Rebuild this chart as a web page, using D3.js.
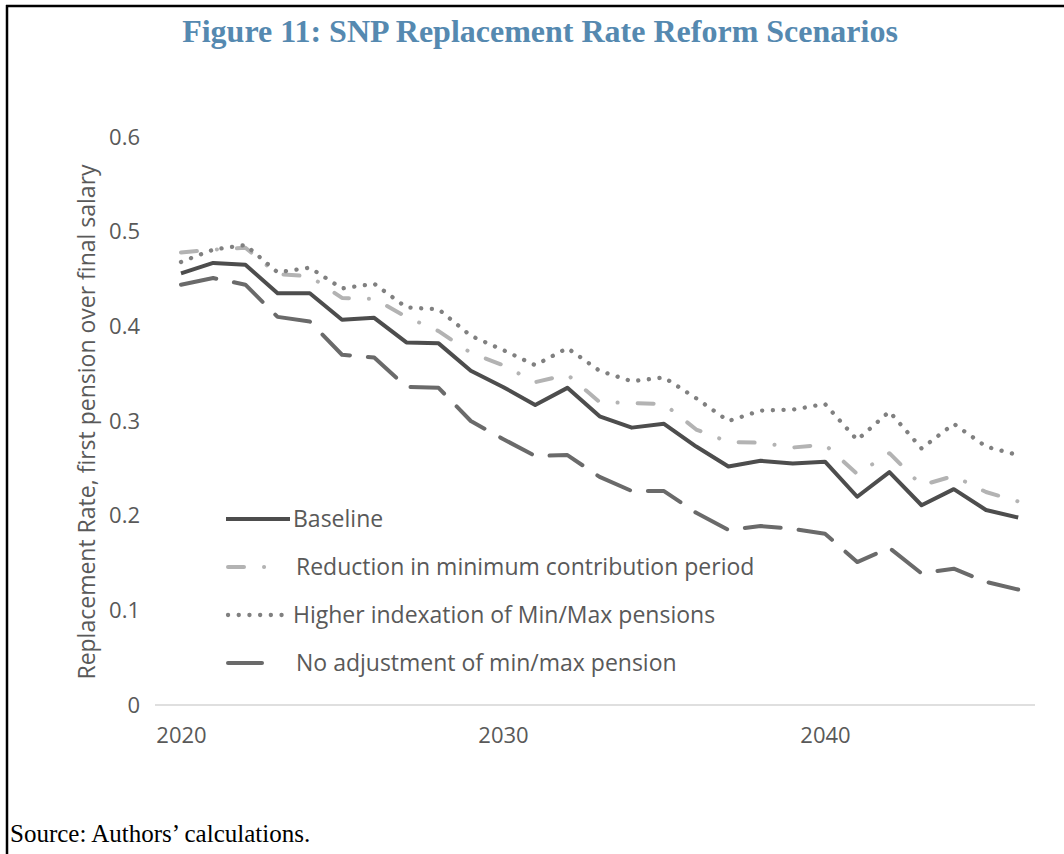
<!DOCTYPE html>
<html>
<head>
<meta charset="utf-8">
<script src="https://cdn.jsdelivr.net/npm/d3@7"></script>
<style>
  body { margin: 0; background: #fff; }
  svg { display: block; }
</style>
</head>
<body>
<script>
// Data, one value per year 2020..2046
var years = d3.range(2020, 2047);

var baseline = [0.456, 0.467, 0.465, 0.435, 0.435, 0.407, 0.409, 0.383, 0.382, 0.353,
    0.336, 0.317, 0.335, 0.305, 0.293, 0.297, 0.273, 0.252, 0.258, 0.255,
    0.257, 0.220, 0.246, 0.211, 0.228, 0.206, 0.198];

var reduction = [0.478, 0.481, 0.483, 0.455, 0.453, 0.430, 0.429, 0.410, 0.395, 0.372,
    0.359, 0.341, 0.349, 0.320, 0.319, 0.318, 0.291, 0.278, 0.277, 0.272,
    0.275, 0.244, 0.266, 0.232, 0.242, 0.225, 0.215];

var indexation = [0.468, 0.481, 0.486, 0.457, 0.462, 0.440, 0.445, 0.420, 0.418, 0.390,
    0.375, 0.359, 0.377, 0.353, 0.342, 0.346, 0.324, 0.300, 0.311, 0.312,
    0.318, 0.280, 0.310, 0.271, 0.297, 0.273, 0.264];

var noAdjust = [0.444, 0.451, 0.444, 0.410, 0.405, 0.370, 0.367, 0.336, 0.335, 0.300,
    0.281, 0.263, 0.264, 0.241, 0.226, 0.226, 0.203, 0.185, 0.189, 0.186,
    0.181, 0.151, 0.166, 0.139, 0.144, 0.130, 0.122];

var seriesNames = ["Baseline", "Reduction in minimum contribution period",
    "Higher indexation of Min/Max pensions", "No adjustment of min/max pension"];

var yTicks = [0, 0.1, 0.2, 0.3, 0.4, 0.5, 0.6];
var xTicks = [2020, 2030, 2040];

// line styles per series
var styles = [
    {color: "#4d4d4d", width: 4, dash: null},
    {color: "#b3b3b3", width: 4, dash: "16,20,0.1,20"},
    {color: "#808080", width: 4.3, dash: "0.1,10.6"},
    {color: "#6a6a6a", width: 4, dash: "36,18"}
];

var width = 1064, height = 854;
var svg = d3.select("body").append("svg")
    .attr("width", width)
    .attr("height", height);

// frame (top and left rules)
svg.append("line").attr("x1", 6).attr("x2", width).attr("y1", 6).attr("y2", 6)
    .attr("stroke", "#000").attr("stroke-width", 2.5);
svg.append("line").attr("x1", 7).attr("x2", 7).attr("y1", 5).attr("y2", height)
    .attr("stroke", "#000").attr("stroke-width", 2.5);

// title
svg.append("text")
    .attr("x", 540).attr("y", 42)
    .attr("text-anchor", "middle")
    .attr("font-family", "'Liberation Serif', 'Times New Roman', serif")
    .attr("font-weight", "bold")
    .attr("font-size", "32px")
    .attr("fill", "#5589b0")
    .text("Figure 11: SNP Replacement Rate Reform Scenarios");

// source note
svg.append("text")
    .attr("x", 10).attr("y", 842)
    .attr("font-family", "'Liberation Serif', 'Times New Roman', serif")
    .attr("font-size", "25px")
    .attr("fill", "#000")
    .text("Source: Authors\u2019 calculations.");

// scales
var xScale = d3.scaleLinear().domain([2020, 2040]).range([181, 825]);
var yScale = d3.scaleLinear().domain([0, 0.6]).range([705, 137]);

// x axis baseline
svg.append("line")
    .attr("x1", 155).attr("x2", 1035)
    .attr("y1", yScale(0)).attr("y2", yScale(0))
    .attr("stroke", "#d4d4d4").attr("stroke-width", 1.5);

var font = "'Open Sans', 'Noto Sans', sans-serif";

// y axis
var yAxis = d3.axisLeft(yScale).tickValues(yTicks).tickSize(0).tickPadding(0)
    .tickFormat(function(d) { return d === 0 ? "0" : d3.format(".1f")(d); });
var gy = svg.append("g").attr("transform", "translate(140,0)").call(yAxis);
gy.select(".domain").remove();
gy.selectAll("text")
    .attr("font-family", font).attr("font-size", "22px").attr("fill", "#595959");

// x axis labels
var xAxis = d3.axisBottom(xScale).tickValues(xTicks).tickSize(0).tickPadding(0)
    .tickFormat(d3.format("d"));
var gx = svg.append("g").attr("transform", "translate(0,727)").call(xAxis);
gx.select(".domain").remove();
gx.selectAll("text")
    .attr("font-family", font).attr("font-size", "22px").attr("fill", "#595959");

// y axis title
svg.append("text")
    .attr("transform", "translate(95," + ((yScale(0) + yScale(0.6)) / 2 + 1) + ") rotate(-90)")
    .attr("text-anchor", "middle")
    .attr("font-family", font).attr("font-size", "23px").attr("fill", "#595959")
    .text("Replacement  Rate, first pension over final salary");

// lines
var allSeries = [baseline, reduction, indexation, noAdjust];
var line = d3.line()
    .x(function(d, i) { return xScale(years[i]); })
    .y(function(d) { return yScale(d); });

// draw back to front so baseline sits on top
[1, 2, 3, 0].forEach(function(k) {
    svg.append("path")
        .datum(allSeries[k])
        .attr("d", line)
        .attr("fill", "none")
        .attr("stroke", styles[k].color)
        .attr("stroke-width", styles[k].width)
        .attr("stroke-dasharray", styles[k].dash)
        .attr("stroke-linecap", k === 0 ? "butt" : "round")
        .attr("stroke-linejoin", "round");
});

// legend
var legendY = 519, legendStep = 48;
var legendLines = [[226, 290], [228, 268], [228, 290], [228, 262]];
var legendTextX = [293, 296, 293, 296];
seriesNames.forEach(function(name, k) {
    var y = legendY + k * legendStep;
    svg.append("line")
        .attr("x1", legendLines[k][0]).attr("x2", legendLines[k][1])
        .attr("y1", y).attr("y2", y)
        .attr("stroke", styles[k].color)
        .attr("stroke-width", styles[k].width)
        .attr("stroke-dasharray", styles[k].dash)
        .attr("stroke-linecap", k === 0 ? "butt" : "round");
    svg.append("text")
        .attr("x", legendTextX[k]).attr("y", y + 8)
        .attr("font-family", font).attr("font-size", "23px").attr("fill", "#595959")
        .text(name);
});
</script>
</body>
</html>
